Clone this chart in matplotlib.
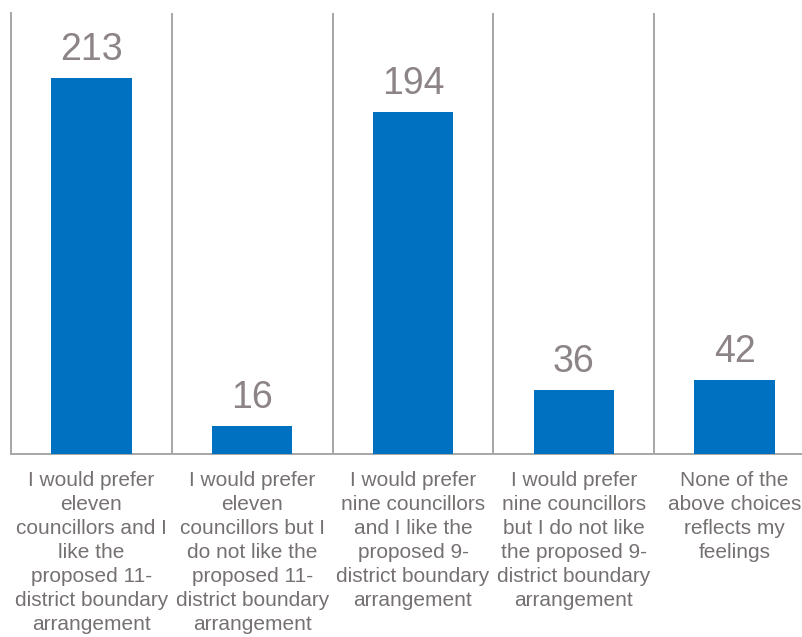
import matplotlib.pyplot as plt

# Chart data
categories = [
    "I would prefer\neleven\ncouncillors and I\nlike the\nproposed 11-\ndistrict boundary\narrangement",
    "I would prefer\neleven\ncouncillors but I\ndo not like the\nproposed 11-\ndistrict boundary\narrangement",
    "I would prefer\nnine councillors\nand I like the\nproposed 9-\ndistrict boundary\narrangement",
    "I would prefer\nnine councillors\nbut I do not like\nthe proposed 9-\ndistrict boundary\narrangement",
    "None of the\nabove choices\nreflects my\nfeelings",
]
counts = [213, 16, 194, 36, 42]

plt.rcParams['font.family'] = ['Liberation Sans', 'DejaVu Sans']

fig = plt.figure(figsize=(8.02, 6.37), dpi=100)
# plot area runs a little past the right edge of the figure
ax = fig.add_axes([11 / 802, 1 - 454 / 637, 804 / 802, 441 / 637])

x = list(range(len(counts)))
ax.bar(x, counts, width=0.5, color='#0070C0', zorder=3)

# value labels above the bars
for xi, v in zip(x, counts):
    ax.annotate(str(v), (xi, v), xytext=(0, 13), textcoords='offset points',
                ha='center', va='baseline', fontsize=27, color='#8C8487')

# vertical separators between categories
for b in [i + 0.5 for i in range(len(counts) - 1)]:
    ax.axvline(b, color='#A6A6A6', linewidth=1.4, zorder=1)

ax.set_xlim(-0.5, len(counts) - 0.5)
ax.set_ylim(0, 250)

ax.set_xticks(x)
ax.set_xticklabels(categories, fontsize=15, color='#767171', linespacing=1.34)
ax.tick_params(axis='x', length=0, pad=12)
ax.set_yticks([])

for side in ['top', 'right']:
    ax.spines[side].set_visible(False)
for side in ['left', 'bottom']:
    ax.spines[side].set_color('#A6A6A6')
    ax.spines[side].set_linewidth(1.4)

fig.savefig('out.png', dpi=100)
